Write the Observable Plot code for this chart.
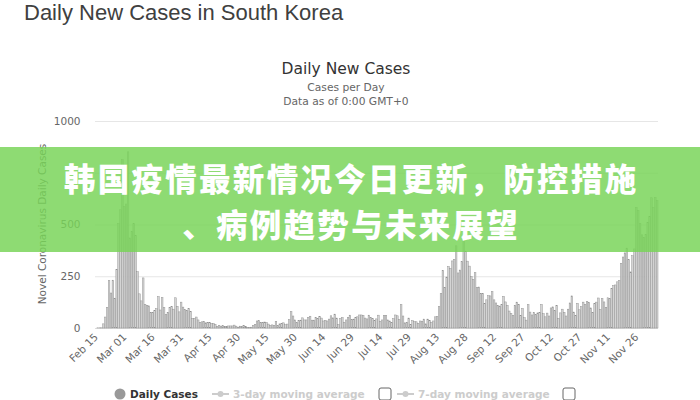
<!DOCTYPE html>
<html>
<head>
<meta charset="utf-8">
<script src="https://cdn.jsdelivr.net/npm/d3@7"></script>
<script src="https://cdn.jsdelivr.net/npm/@observablehq/plot@0.6"></script>
<style>
  html, body { margin: 0; padding: 0; background: #fff; }
  #wrap { position: relative; width: 700px; height: 400px; overflow: hidden; }
  #wrap svg { position: absolute; left: 0; top: 0; }
  #banner {
    position: absolute; left: 0; top: 147px; width: 700px; height: 105px; box-sizing: border-box;
    padding-top: 7px; padding-left: 2.3px; background: rgba(120, 212, 88, 0.84); color: #fff; text-align: center;
    font-family: "Noto Sans CJK SC", sans-serif; font-weight: 900; font-size: 31.5px; line-height: 46px;
    letter-spacing: 2.3px; white-space: nowrap;
  }
</style>
</head>
<body>
<div id="wrap"></div>
<script>
// ---- data ----
const startDay = "2020-02-15";
const casesFeb = [0, 1, 1, 1, 20, 53, 100, 229, 169, 231, 144, 284, 505, 571, 813];
const casesMar = [586, 599, 851, 435, 467, 505, 448, 272, 165, 131, 242, 114, 110, 107, 76, 74, 84, 93, 152, 87, 147, 98, 64, 76, 100, 104, 91, 146, 105, 78, 125];
const casesApr = [101, 89, 86, 94, 81, 47, 47, 53, 39, 27, 30, 32, 25, 27, 27, 22, 22, 18, 8, 13, 9, 11, 8, 6, 10, 10, 10, 14, 9, 4];
const casesMay = [9, 6, 13, 8, 3, 2, 4, 12, 18, 34, 35, 27, 26, 29, 27, 19, 13, 15, 13, 32, 12, 20, 23, 25, 16, 19, 40, 79, 58, 39, 27];
const casesJun = [35, 38, 49, 39, 39, 51, 57, 38, 38, 50, 45, 56, 48, 34, 37, 34, 43, 59, 49, 67, 48, 17, 46, 51, 28, 39, 51, 62, 42, 43];
const casesJul = [51, 54, 63, 63, 61, 48, 44, 62, 50, 45, 35, 44, 62, 33, 39, 61, 60, 39, 34, 26, 45, 63, 59, 41, 113, 58, 25, 28, 48, 18, 36];
const casesAug = [31, 30, 23, 34, 33, 43, 20, 43, 36, 28, 34, 54, 56, 103, 166, 279, 197, 246, 297, 288, 324, 332, 397, 266, 280, 320, 441, 371, 323, 299, 248];
const casesSep = [235, 267, 195, 198, 168, 167, 119, 136, 156, 155, 176, 136, 121, 109, 106, 113, 153, 126, 110, 82, 70, 61, 110, 125, 114, 61, 95, 50, 38, 113];
const casesOct = [77, 63, 75, 64, 73, 75, 114, 69, 54, 72, 58, 97, 102, 84, 110, 47, 73, 91, 76, 58, 91, 121, 155, 77, 61, 119, 88, 103, 125, 114, 127];
const casesNov = [124, 97, 75, 118, 125, 145, 89, 143, 126, 100, 146, 143, 191, 205, 208, 223, 230, 313, 343, 363, 386, 330, 271, 349, 382, 583, 569, 504, 450, 438];
const casesDec = [451, 511, 540, 629, 583, 631, 615];
const yGrid = [0, 250, 500, 750, 1000];
const yTickLabels = [0, 250, 500, 1000]; // 750 is hidden behind the banner text in the reference
const xTickStep = 15;

const pageTitle = "Daily New Cases in South Korea";
const chartTitle = "Daily New Cases";
const chartSub1 = "Cases per Day";
const chartSub2 = "Data as of 0:00 GMT+0";
const yTitle = "Novel Coronavirus Daily Cases";
const legendItems = ["Daily Cases", "3-day moving average", "7-day moving average"];
const bannerLines = ["韩国疫情最新情况今日更新，防控措施", "、病例趋势与未来展望"];

// ---- build table ----
const dailyCases = [].concat(casesFeb, casesMar, casesApr, casesMay, casesJun, casesJul, casesAug, casesSep, casesOct, casesNov, casesDec);
const parse = d3.utcParse("%Y-%m-%d");
const fmtKey = d3.utcFormat("%Y-%m-%d");
const fmtTick = d3.utcFormat("%b %d");
const start = parse(startDay);
const days = dailyCases.map((_, i) => fmtKey(d3.utcDay.offset(start, i)));
const rows = days.map((d, i) => ({day: d, cases: dailyCases[i]}));
const xTicks = days.filter((_, i) => i % xTickStep === 0);

const chart = Plot.plot({
  width: 700,
  height: 400,
  marginLeft: 95,
  marginRight: 42,
  marginTop: 121,
  marginBottom: 72,
  style: {fontFamily: "DejaVu Sans, sans-serif", fontSize: "10px", color: "#666", background: "transparent"},
  x: {type: "band", domain: days, paddingInner: 0.15, paddingOuter: 0},
  y: {domain: [0, 1000], label: null},
  marks: [
    Plot.gridY(yGrid, {stroke: "#e6e6e6", strokeOpacity: 1}),
    Plot.ruleY([0], {stroke: "#dcdcdc"}),
    Plot.barY(rows, {x: "day", y: "cases", fill: "#d4d4d4", stroke: "#8e8e8e", strokeWidth: 0.45}),
    Plot.axisY(yTickLabels, {tickSize: 0, tickPadding: 15, tickFormat: d3.format("d"), label: null, fill: "#666", fontSize: 10.5}),
    Plot.axisX(xTicks, {tickSize: 0, tickPadding: 7, tickRotate: -45, tickFormat: d => fmtTick(parse(d)), label: null, fill: "#666", fontSize: 10.5})
  ]
});
const wrap = document.getElementById("wrap");
wrap.appendChild(chart);

// ---- overlay texts and legend ----
const ov = d3.select("#wrap").append("svg").attr("width", 700).attr("height", 400);
const sans = "DejaVu Sans, sans-serif";

ov.append("text").attr("x", 24).attr("y", 20).attr("font-family", "Liberation Sans, Arial, sans-serif")
  .attr("font-size", 22).attr("fill", "#404040").text(pageTitle);
ov.append("text").attr("x", 346).attr("y", 74).attr("text-anchor", "middle").attr("font-family", sans)
  .attr("font-size", 15.5).attr("fill", "#333").text(chartTitle);
ov.append("text").attr("x", 346).attr("y", 91).attr("text-anchor", "middle").attr("font-family", sans)
  .attr("font-size", 10.7).attr("fill", "#666").text(chartSub1);
ov.append("text").attr("x", 346).attr("y", 105).attr("text-anchor", "middle").attr("font-family", sans)
  .attr("font-size", 10.7).attr("fill", "#666").text(chartSub2);
ov.append("text").attr("transform", "translate(46,224) rotate(-90)").attr("text-anchor", "middle")
  .attr("font-family", sans).attr("font-size", 10.5).attr("fill", "#666").text(yTitle);

// legend
const ly = 394;
ov.append("circle").attr("cx", 120).attr("cy", ly).attr("r", 5.5).attr("fill", "#999");
ov.append("text").attr("x", 130).attr("y", ly + 4).attr("font-family", sans).attr("font-weight", "bold")
  .attr("font-size", 10.5).attr("fill", "#333").text(legendItems[0]);
[[212, legendItems[1], 379], [397, legendItems[2], 563]].forEach(([x0, label, bx]) => {
  ov.append("line").attr("x1", x0).attr("x2", x0 + 17).attr("y1", ly).attr("y2", ly).attr("stroke", "#ccc").attr("stroke-width", 2);
  ov.append("circle").attr("cx", x0 + 8.5).attr("cy", ly).attr("r", 3).attr("fill", "#ccc");
  ov.append("text").attr("x", x0 + 21).attr("y", ly + 4).attr("font-family", sans).attr("font-weight", "bold")
    .attr("font-size", 10.5).attr("fill", "#ccc").text(label);
  ov.append("rect").attr("x", bx).attr("y", ly - 6).attr("width", 12).attr("height", 12).attr("rx", 2)
    .attr("fill", "#fff").attr("stroke", "#666").attr("stroke-width", 1);
});

// banner (one block of text, two lines)
const banner = document.createElement("div");
banner.id = "banner";
banner.innerHTML = bannerLines.join("<br>");
wrap.appendChild(banner);
</script>
</body>
</html>
